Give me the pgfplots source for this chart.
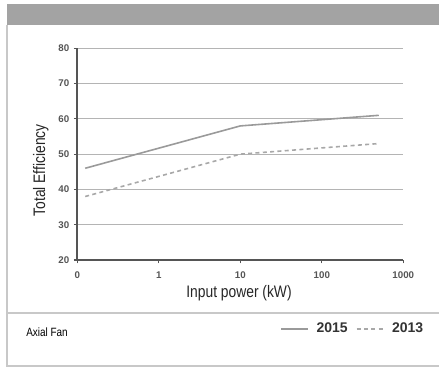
\documentclass[border=0pt]{standalone}
\usepackage{pgfplots}
\pgfplotsset{compat=1.18}
\usepackage{fontspec}
\setmainfont{Liberation Sans}
\newfontfamily\condensed{Liberation Sans}[FakeStretch=0.83]
\definecolor{barcol}{HTML}{A3A3A3}
\definecolor{framecol}{HTML}{C8C8C8}
\definecolor{gridcol}{HTML}{B4B4B4}
\definecolor{axiscol}{HTML}{555555}
\definecolor{l2015}{HTML}{9A9A9A}
\definecolor{l2013}{HTML}{A8A8A8}
\begin{document}
\begin{tikzpicture}
\begin{scope}[x=0.75pt,y=0.75pt]
\path[use as bounding box] (0,0) rectangle (439,367);
\fill[barcol] (7,363) rectangle (439,342);
\draw[framecol,line width=1.2pt] (7,342) -- (7,1) -- (439,1);
\draw[framecol,line width=1pt] (7,54) -- (439,54);
\node[anchor=west,inner sep=0pt,font=\condensed\fontsize{9}{10}\selectfont] at (26,35) {Axial Fan};
\end{scope}
\begin{axis}[
  at={(57.98pt,80.25pt)}, anchor=south west,
  scale only axis, width=244.5pt, height=158.78pt,
  xmode=log, xmin=0.1, xmax=1000, ymin=20, ymax=80,
  xtick={0.1,1,10,100,1000}, xticklabels={0,1,10,100,1000},
  ytick={20,30,40,50,60,70,80},
  axis x line=bottom, axis y line=left,
  axis line style={-, axiscol, line width=1.3pt},
  tick align=outside, major tick length=2.5pt,
  tick style={axiscol, line width=0.8pt},
  minor tick num=0, xminorticks=false,
  ymajorgrids, major grid style={gridcol, line width=0.9pt},
  /pgf/number format/assume math mode=true,
  ticklabel style={font=\bfseries\fontsize{7.3}{8}\selectfont, text=axiscol},
  xticklabel style={yshift=-2.5pt},
  xlabel={Input power (kW)}, ylabel={Total Efficiency},
  label style={font=\condensed\fontsize{12.5}{14}\selectfont, text=black!85},
  xlabel style={at={(axis description cs:0.496,-0.156)}, anchor=center},
  ylabel style={at={(axis description cs:-0.112,0.423)}, anchor=center, rotate=0},
  legend style={at={(axis description cs:0.846,-0.326)}, anchor=center, draw=none, fill=none,
    font=\bfseries\fontsize{10.5}{12}\selectfont, text=black!80, column sep=4pt},
  legend columns=2,
  legend image code/.code={\draw[#1] (0pt,0pt) -- (20pt,0pt);},
  clip=false,
]
\addplot[l2015, line width=1.2pt] coordinates {(0.125,46) (10,58) (500,61)};
\addlegendentry{2015}
\addplot[l2013, line width=1.2pt, dash pattern=on 3pt off 2.5pt] coordinates {(0.125,38) (10,50) (500,53)};
\addlegendentry{2013}
\end{axis}
\end{tikzpicture}
\end{document}
